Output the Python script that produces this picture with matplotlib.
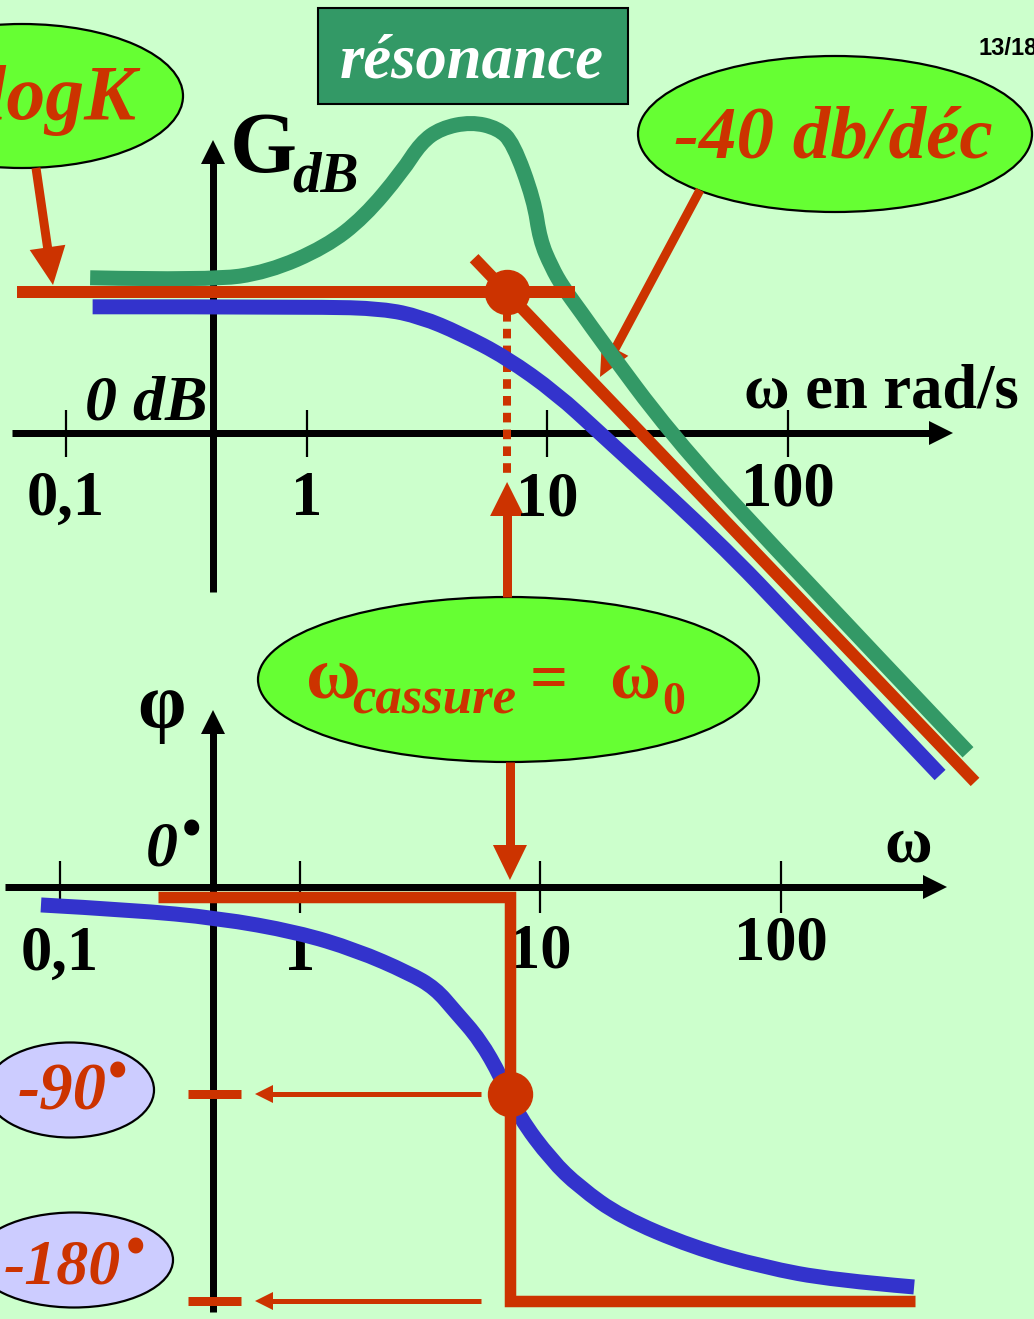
import matplotlib
matplotlib.use("Agg")
import matplotlib.pyplot as plt
import numpy as np
from matplotlib.patches import Ellipse, Polygon, Rectangle, PathPatch
from matplotlib.path import Path
from matplotlib.transforms import blended_transform_factory

W, H = 1034, 1319
PT = 0.72  # points per pixel at 100 dpi

BG = "#CCFFCC"
RED = "#CC3300"
BLUE = "#3333CC"
GREEN = "#339966"
LIME = "#66FF33"
LAVENDER = "#CCCCFF"
SERIF = "Liberation Serif"

# ---- values (omega in rad/s, gain in dB, phase in degrees)
decades = [0.1, 1, 10, 100]
decade_labels = ["0,1", "1", "10", "100"]

w0 = 6.8
gain_k_db = 22.3
asym_flat_w = [0.0625, 13.0]
asym_slope_w = [4.96, 598]
asym_slope_db = [27.7, -55.3]

reso_w = [0.126, 0.40, 0.69, 1.20, 1.73, 2.49, 2.98, 3.61, 4.82, 6.23, 7.20,
          8.80, 9.31, 10.4, 11.6, 13.9, 16.7, 32.3, 81.6, 559]
reso_db = [24.6, 24.2, 25.5, 29.5, 34.2, 41.4, 46.0, 48.3, 49.3, 48.3, 46.0,
           36.9, 30.6, 26.3, 23.1, 19.0, 14.7, 0.0, -17.0, -50.6]

gain_w = [0.129, 1.11, 2.07, 2.98, 4.33, 6.73, 10.9, 16.5, 50.7, 112, 428]
gain_db = [20.0, 20.0, 19.7, 18.4, 15.8, 12.0, 6.3, 0.0, -17.0, -30.7, -54.2]

phase_step_w = 7.47
phase_asym_w = [0.256, phase_step_w, phase_step_w, 362]
phase_asym_deg = [-4.5, -4.5, -180, -180]

phase_w = [0.0835, 0.200, 0.456, 0.97, 1.71, 2.84, 3.65, 4.41, 5.61, 6.86,
           8.15, 11.1, 14.5, 21.7, 42.8, 84.5, 165, 359]
phase_deg = [-7.8, -10.0, -13.5, -19.6, -27.4, -37.4, -44.0, -54.0, -66.5,
             -82.6, -100.0, -118.7, -130.4, -143.5, -156.5, -165.2, -170.9,
             -173.9]
phase_marks = [-90, -180]
phase_mark_labels = ["-90", "-180"]

# ---- figure and layers
fig = plt.figure(figsize=(W / 100, H / 100), dpi=100)
fig.patch.set_facecolor(BG)


def layer(z):
    ax = fig.add_axes([0, 0, 1, 1], zorder=z)
    ax.set_axis_off()
    ax.patch.set_alpha(0)
    return ax


ax_px = layer(1)
ax_px.set_xlim(0, W)
ax_px.set_ylim(H, 0)

ax_g = layer(2)
ax_g.set_xscale("log")
ax_g.set_xlim(10 ** (-306.7 / 240.7), 10 ** ((W - 306.7) / 240.7))
ax_g.set_ylim((433 - H) / 6.31, 433 / 6.31)

ax_ph = layer(3)
ax_ph.set_xscale("log")
ax_ph.set_xlim(10 ** (-300.1 / 240.3), 10 ** ((W - 300.1) / 240.3))
ax_ph.set_ylim((887 - H) / 2.3, 887 / 2.3)


def to_px(ax, x, y):
    dx, dy = ax.transData.transform((x, y))
    return dx, H - dy


def smooth_curve(ax, xs, ys, color, width, z=2):
    # quadratic bezier through the read points (used as control points)
    lx = np.log10(xs)
    verts = [(xs[0], ys[0])]
    codes = [Path.MOVETO]
    n = len(xs)
    for i in range(1, n - 1):
        if i == n - 2:
            end = (xs[-1], ys[-1])
        else:
            end = (10 ** ((lx[i] + lx[i + 1]) / 2), (ys[i] + ys[i + 1]) / 2)
        verts += [(xs[i], ys[i]), end]
        codes += [Path.CURVE3, Path.CURVE3]
    ax.add_patch(PathPatch(Path(verts, codes), fill=False, edgecolor=color,
                           lw=width * PT, capstyle="butt", joinstyle="round",
                           zorder=z))


def arrow(x0, y0, x1, y1, width, head_w, head_l, color=RED, z=2):
    d = np.hypot(x1 - x0, y1 - y0)
    ux, uy = (x1 - x0) / d, (y1 - y0) / d
    bx, by = x1 - ux * head_l, y1 - uy * head_l
    ax_px.plot([x0, bx + ux * 2], [y0, by + uy * 2], color=color,
               lw=width * PT, solid_capstyle="butt", zorder=z)
    nx, ny = -uy, ux
    ax_px.add_patch(Polygon([(x1, y1), (bx + nx * head_w, by + ny * head_w),
                             (bx - nx * head_w, by - ny * head_w)],
                            closed=True, facecolor=color, lw=0, zorder=z))


def txt(ax, x, y, s, size, color="black", italic=False, ha="left",
        va="baseline", family=SERIF, **kw):
    ax.text(x, y, s, fontsize=size, color=color, fontweight="bold",
            fontstyle="italic" if italic else "normal", family=family,
            ha=ha, va=va, **kw)


def bullet(x, yc, size, color):
    em = size / PT
    txt(ax_px, x, yc + 0.27 * em, "\u2022", size, color=color, ha="center",
        zorder=3)


# ---- black axes
arrow(12, 433, 953, 433, 7, 12, 24, color="black", z=1)
arrow(213, 592, 213, 140, 7, 12, 24, color="black", z=1)
arrow(5, 887, 947, 887, 7, 12, 24, color="black", z=1)
arrow(213, 1312, 213, 710, 7, 12, 24, color="black", z=1)

# ---- gain diagram
ax_g.vlines(decades, -3.8, 3.6, color="black", lw=1.6, zorder=1)
lab_tr = blended_transform_factory(ax_g.transData, ax_px.transData)
for w, lab, yb in zip(decades, decade_labels, [515, 515, 515, 505]):
    txt(ax_g, w, yb, lab, 45, ha="center", transform=lab_tr)

smooth_curve(ax_g, reso_w, reso_db, GREEN, 15)
smooth_curve(ax_g, gain_w, gain_db, BLUE, 15)
ax_g.plot(asym_flat_w, [gain_k_db, gain_k_db], color=RED, lw=12 * PT,
          solid_capstyle="butt", zorder=3)
ax_g.plot(asym_slope_w, asym_slope_db, color=RED, lw=12 * PT,
          solid_capstyle="butt", zorder=3)
ax_g.plot([w0], [gain_k_db], "o", color=RED, ms=44 * PT, zorder=4)

x0g, yk = to_px(ax_g, w0, gain_k_db)
ax_px.plot([x0g, x0g], [yk + 20, 480], color=RED, lw=8 * PT,
           linestyle=(0, (1.2, 0.9)), dash_capstyle="butt", zorder=2)

txt(ax_px, 230, 172, "G", 62)
txt(ax_px, 292, 192, "dB", 41, italic=True)
txt(ax_px, 85, 420, "0 dB", 46, italic=True)
txt(ax_px, 744, 408, "\u03c9 en rad/s", 45)

# résonance box
ax_px.add_patch(Rectangle((318, 8), 310, 96, facecolor=GREEN,
                          edgecolor="black", lw=1.5, zorder=2))
txt(ax_px, 472, 77, "résonance", 45, color="white", italic=True,
    ha="center", zorder=3)

txt(ax_px, 978, 55, "13/18", 17, family="Liberation Sans")

# 20logK bubble
ax_px.add_patch(Ellipse((22, 96), 322, 144, facecolor=LIME,
                        edgecolor="black", lw=1.6, zorder=2))
txt(ax_px, 137, 119, "20logK", 56, color=RED, italic=True, ha="right",
    zorder=3)
arrow(36, 168, 53, 285, 9, 18, 38)

# -40 dB/dec bubble
ax_px.add_patch(Ellipse((835, 134), 394, 156, facecolor=LIME,
                        edgecolor="black", lw=1.6, zorder=2))
txt(ax_px, 833, 157, "-40 db/déc", 54, color=RED, italic=True, ha="center",
    zorder=3)
arrow(700, 190, 600, 377, 9, 15, 32)

# omega cassure bubble
ax_px.add_patch(Ellipse((508.5, 679.5), 501, 165, facecolor=LIME,
                        edgecolor="black", lw=1.6, zorder=2))
txt(ax_px, 306, 697, "\u03c9", 54, color=RED, zorder=3)
txt(ax_px, 352, 714, "cassure", 38, color=RED, italic=True, zorder=3)
txt(ax_px, 549, 699, "=", 48, color=RED, ha="center", zorder=3)
txt(ax_px, 609, 697, "\u03c9", 50, color=RED, zorder=3)
txt(ax_px, 662, 714, "0", 33, color=RED, zorder=3)
arrow(x0g, 597, x0g, 482, 9, 17, 34)

x0p, _ = to_px(ax_ph, phase_step_w, 0)
arrow(x0p, 762, x0p, 880, 9, 17, 35)

# ---- phase diagram
ax_ph.vlines(decades, -11.3, 11.3, color="black", lw=1.6, zorder=1)
lab_tr2 = blended_transform_factory(ax_ph.transData, ax_px.transData)
for w, lab, yb in zip(decades, decade_labels, [970, 970, 967, 960]):
    txt(ax_ph, w, yb, lab, 45, ha="center", transform=lab_tr2, zorder=1)

smooth_curve(ax_ph, phase_w, phase_deg, BLUE, 15)
ax_ph.plot(phase_asym_w, phase_asym_deg, color=RED, lw=11.5 * PT,
           solid_capstyle="butt", solid_joinstyle="miter", zorder=3)
ax_ph.plot([phase_step_w], [-90], "o", color=RED, ms=44 * PT, zorder=4)

txt(ax_px, 137, 727, "\u03c6", 56)
txt(ax_px, 146, 865, "0", 46, italic=True)
bullet(192, 831, 40, "black")
txt(ax_px, 884, 861, "\u03c9", 47)

# -90 / -180 markers
for deg in phase_marks:
    _, py = to_px(ax_ph, 1, deg)
    ax_px.plot([188, 241], [py, py], color=RED, lw=9 * PT,
               solid_capstyle="butt", zorder=2)
    arrow(481, py, 255, py, 5, 9, 18)

for lab, (cx, cy), ew, (tx, tb), size, (bx, by) in zip(
        phase_mark_labels, [(70, 1090), (74, 1260)], [168, 198],
        [(18, 1110), (4, 1283)], [48, 46], [(118, 1073), (136, 1250)]):
    ax_px.add_patch(Ellipse((cx, cy), ew, 95, facecolor=LAVENDER,
                            edgecolor="black", lw=1.6, zorder=2))
    txt(ax_px, tx, tb, lab, size, color=RED, italic=True, zorder=3)
    bullet(bx, by, 40, RED)

fig.savefig("out.png", dpi=100, facecolor=BG)
